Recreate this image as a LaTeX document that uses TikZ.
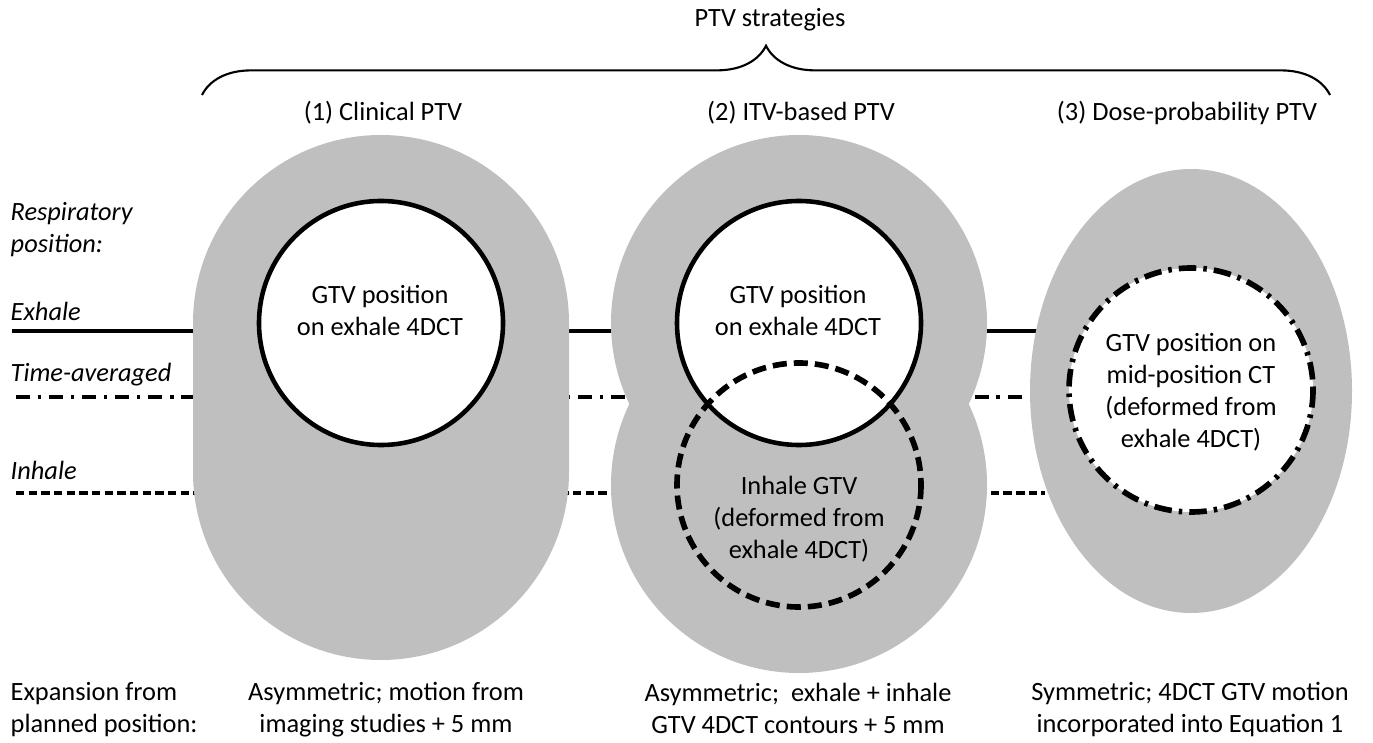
\documentclass[tikz,border=0pt]{standalone}
\usepackage{fontspec}
\setmainfont{Carlito}
\usetikzlibrary{decorations.pathreplacing}
\definecolor{ptvgray}{RGB}{191,191,191}

\begin{document}
\begin{tikzpicture}[x=0.01cm,y=-0.01cm,
  lbl/.style={font=\fontsize{7.5}{9.1}\selectfont, align=center, inner sep=0pt},
  note/.style={lbl, align=left, anchor=north west},
  side/.style={lbl, align=left, anchor=west, font=\fontsize{7.5}{9.1}\selectfont\itshape},
  gtv/.style={draw=black, fill=white, line width=1.3pt},
  phase/.style={line width=1.1pt}]
\useasboundingbox (0,0) rectangle (1373,743);
\node[lbl] (head) at (770,20) {PTV strategies};
\coordinate (brL) at (202,95);
\coordinate (brR) at (1330,95);
\draw[line width=0.6pt, decorate, decoration={brace, amplitude=14pt}] (brL) -- (brR);
\node[lbl] (t1) at (383,113) {(1) Clinical PTV};
\node[lbl] (t2) at (801,113) {(2) ITV-based PTV};
\node[lbl] (t3) at (1187,113) {(3) Dose-probability PTV};
\node[side] (resp) at (10,230) {Respiratory\\position:};
\node[side] (exh) at (10,311) {Exhale};
\node[side] (tav) at (10,375) {Time-averaged};
\node[side] (inh) at (10,470) {Inhale};
\coordinate (exL) at (12,331);  \coordinate (exR) at (1045,331);
\coordinate (taL) at (16,397);  \coordinate (taR) at (1045,397);
\coordinate (inL) at (16,493);  \coordinate (inR) at (1045,493);
\draw[phase] (exL) -- (exR);
\draw[phase, dash pattern=on 4pt off 2.2pt on 1pt off 2.2pt] (taL) -- (taR);
\draw[phase, dash pattern=on 2.4pt off 1.2pt] (inL) -- (inR);
\fill[ptvgray] (193,323) arc[start angle=180, end angle=360, radius=188] -- (569,472) arc[start angle=0, end angle=180, radius=188] -- cycle;
\fill[ptvgray] (799,323) circle[radius=188];
\fill[ptvgray] (799,485) circle[radius=188];
\fill[ptvgray] (1191,391) ellipse[x radius=161, y radius=222];
\draw[gtv] (381,323) circle[radius=122];
\draw[gtv] (799,323) circle[radius=122];
\draw[line width=1.6pt, dash pattern=on 4pt off 2pt] (799,485) circle[radius=122];
\draw[gtv, line width=1.6pt, dash pattern=on 5pt off 2pt on 1pt off 2pt] (1191,390) circle[radius=122];
\node[lbl] (g1) at (380,310) {GTV position\\on exhale 4DCT};
\node[lbl] (g2) at (798,310) {GTV position\\on exhale 4DCT};
\node[lbl] (g2i) at (799,519) {Inhale GTV\\(deformed from\\exhale 4DCT)};
\node[lbl] (g3) at (1191,392) {GTV position on\\mid-position CT\\(deformed from\\exhale 4DCT)};
\node[note] (exp) at (10,682) {Expansion from\\planned position:};
\node[lbl, anchor=north] (e1) at (386,682) {Asymmetric; motion from\\imaging studies + 5 mm};
\node[lbl, anchor=north] (e2) at (798,682) {Asymmetric;\ \ exhale + inhale\\GTV 4DCT contours + 5 mm};
\node[lbl, anchor=north] (e3) at (1190,682) {Symmetric; 4DCT GTV motion\\incorporated into Equation 1};
\end{tikzpicture}
\end{document}
